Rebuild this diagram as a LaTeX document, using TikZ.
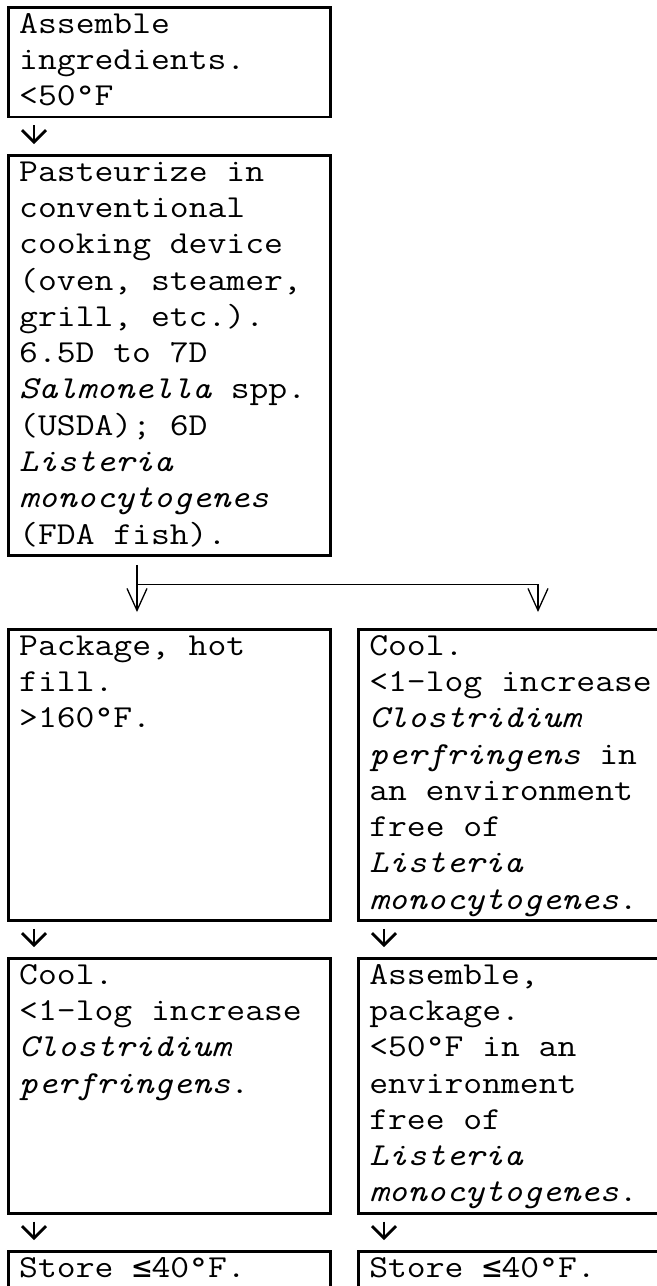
\documentclass[tikz,border=0pt]{standalone}
\usepackage{fontspec}
\newfontfamily\flowfont[FakeStretch=1.143]{Latin Modern Mono}
\newfontfamily\mathsign{DejaVu Sans Mono}
\usetikzlibrary{arrows.meta}

\newcommand{\flowsize}{\fontsize{16}{18.15}\selectfont}
% box text: #1 = height in lines, #2 = the lines
\newcommand{\steptext}[2]{\parbox[t][#1\baselineskip][t]{150pt}{\raggedright\strut#2\strut}}
\newcommand{\atmost}{{\mathsign ≤}}

\begin{document}
\begin{tikzpicture}[
    stepbox/.style={draw, line width=1.25pt, anchor=north west, inner xsep=5.5pt, inner ysep=0.25pt, font=\flowfont\flowsize},
    flow/.style={line width=1.4pt, -{Straight Barb[length=6pt,width=12pt]}, shorten <=3.5pt, shorten >=5pt},
    branch/.style={line width=0.65pt, -{Straight Barb[length=11pt,width=10pt]}, shorten >=8pt}
]
    \useasboundingbox (0,0) rectangle (328.5pt,-643pt);

    % left column
    \node[stepbox] (ingredients) at (3.5pt,-3pt) {\steptext{3}{Assemble\\ingredients.\\<50°F}};
    \node[stepbox] (pasteurize) at (3.5pt,-77pt) {\steptext{11}{Pasteurize in\\conventional\\cooking device\\(oven, steamer,\\grill, etc.).\\6.5D to 7D\\\textit{Salmonella} spp.\\(USDA); 6D\\\textit{Listeria}\\\textit{monocytogenes}\\(FDA fish).}};
    \node[stepbox] (hotfill) at (3.5pt,-314pt) {\steptext{8}{Package, hot\\fill.\\>160°F.}};
    \node[stepbox] (coolhot) at (3.5pt,-478.5pt) {\steptext{7}{Cool.\\<1-log increase\\\textit{Clostridium}\\\textit{perfringens}.}};
    \node[stepbox] (storehot) at (3.5pt,-625pt) {\steptext{1.2}{Store \atmost40°F.}};

    % right column
    \node[stepbox] (coolenv) at (178.5pt,-314pt) {\steptext{8}{Cool.\\<1-log increase\\\textit{Clostridium}\\\textit{perfringens} in\\an environment\\free of\\\textit{Listeria}\\\textit{monocytogenes}.}};
    \node[stepbox] (assemblepkg) at (178.5pt,-478.5pt) {\steptext{7}{Assemble,\\package.\\<50°F in an\\environment\\free of\\\textit{Listeria}\\\textit{monocytogenes}.}};
    \node[stepbox] (storeenv) at (178.5pt,-625pt) {\steptext{1.2}{Store \atmost40°F.}};

    % arrows
    \draw[flow] ([xshift=13.5pt]ingredients.south west) -- ([xshift=13.5pt]pasteurize.north west);
    \draw[flow] ([xshift=13.5pt]hotfill.south west) -- ([xshift=13.5pt]coolhot.north west);
    \draw[flow] ([xshift=13.5pt]coolhot.south west) -- ([xshift=13.5pt]storehot.north west);
    \draw[flow] ([xshift=13.5pt]coolenv.south west) -- ([xshift=13.5pt]assemblepkg.north west);
    \draw[flow] ([xshift=13.5pt]assemblepkg.south west) -- ([xshift=13.5pt]storeenv.north west);

    % split after pasteurizing
    \coordinate (fork) at ([xshift=65pt,yshift=-14pt]pasteurize.south west);
    \coordinate (rightdrop) at ([xshift=90.5pt]coolenv.north west);
    \draw[branch] ([xshift=65pt,yshift=-4pt]pasteurize.south west) -- ([xshift=65pt]hotfill.north west);
    \draw[branch] (fork) -- (rightdrop |- fork) -- (rightdrop);
\end{tikzpicture}
\end{document}
